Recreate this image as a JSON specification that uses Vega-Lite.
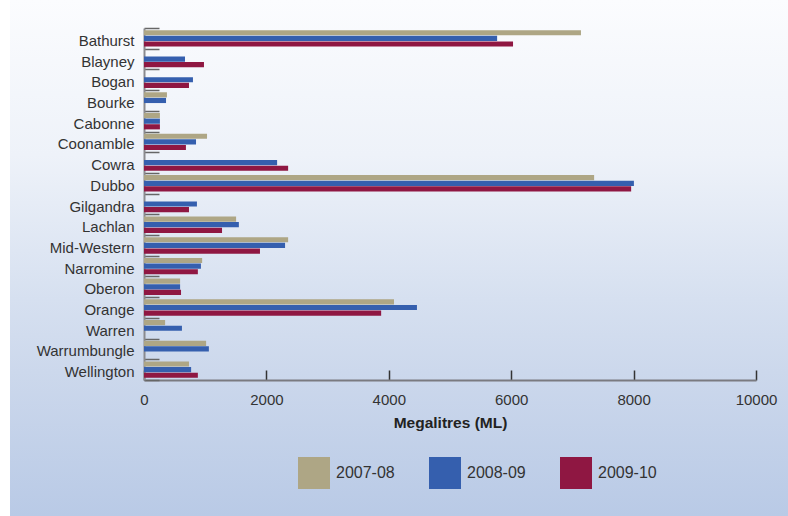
{
  "$schema": "https://vega.github.io/schema/vega-lite/v6.json",
  "width": 778,
  "height": 516,
  "autosize": {"type": "none"},
  "padding": {"left": 10, "top": 0, "right": 0, "bottom": 0},
  "background": "#ffffff",
  "config": {
    "font": "Liberation Sans",
    "view": {
      "stroke": null,
      "fill": {
        "gradient": "linear",
        "x1": 0, "y1": 0, "x2": 0, "y2": 1,
        "stops": [
          {"offset": 0, "color": "#fbfcfe"},
          {"offset": 0.3, "color": "#eef2f9"},
          {"offset": 0.58, "color": "#d6e0f0"},
          {"offset": 0.72, "color": "#ccd8ec"},
          {"offset": 1, "color": "#b9cae6"}
        ]
      }
    }
  },
  "data": {
    "values": [
      {"lga": "Bathurst", "year": "2007-08", "ml": 7140},
      {"lga": "Bathurst", "year": "2008-09", "ml": 5770},
      {"lga": "Bathurst", "year": "2009-10", "ml": 6030},
      {"lga": "Blayney", "year": "2008-09", "ml": 670},
      {"lga": "Blayney", "year": "2009-10", "ml": 980},
      {"lga": "Bogan", "year": "2008-09", "ml": 800},
      {"lga": "Bogan", "year": "2009-10", "ml": 735},
      {"lga": "Bourke", "year": "2007-08", "ml": 375},
      {"lga": "Bourke", "year": "2008-09", "ml": 360},
      {"lga": "Cabonne", "year": "2007-08", "ml": 260},
      {"lga": "Cabonne", "year": "2008-09", "ml": 260},
      {"lga": "Cabonne", "year": "2009-10", "ml": 260},
      {"lga": "Coonamble", "year": "2007-08", "ml": 1030},
      {"lga": "Coonamble", "year": "2008-09", "ml": 850},
      {"lga": "Coonamble", "year": "2009-10", "ml": 685},
      {"lga": "Cowra", "year": "2008-09", "ml": 2175},
      {"lga": "Cowra", "year": "2009-10", "ml": 2355},
      {"lga": "Dubbo", "year": "2007-08", "ml": 7355},
      {"lga": "Dubbo", "year": "2008-09", "ml": 8005},
      {"lga": "Dubbo", "year": "2009-10", "ml": 7960},
      {"lga": "Gilgandra", "year": "2008-09", "ml": 865},
      {"lga": "Gilgandra", "year": "2009-10", "ml": 735},
      {"lga": "Lachlan", "year": "2007-08", "ml": 1505},
      {"lga": "Lachlan", "year": "2008-09", "ml": 1550},
      {"lga": "Lachlan", "year": "2009-10", "ml": 1275},
      {"lga": "Mid-Western", "year": "2007-08", "ml": 2355},
      {"lga": "Mid-Western", "year": "2008-09", "ml": 2305},
      {"lga": "Mid-Western", "year": "2009-10", "ml": 1895},
      {"lga": "Narromine", "year": "2007-08", "ml": 950},
      {"lga": "Narromine", "year": "2008-09", "ml": 930},
      {"lga": "Narromine", "year": "2009-10", "ml": 880},
      {"lga": "Oberon", "year": "2007-08", "ml": 590},
      {"lga": "Oberon", "year": "2008-09", "ml": 590},
      {"lga": "Oberon", "year": "2009-10", "ml": 605},
      {"lga": "Orange", "year": "2007-08", "ml": 4085},
      {"lga": "Orange", "year": "2008-09", "ml": 4460},
      {"lga": "Orange", "year": "2009-10", "ml": 3875},
      {"lga": "Warren", "year": "2007-08", "ml": 345},
      {"lga": "Warren", "year": "2008-09", "ml": 620},
      {"lga": "Warrumbungle", "year": "2007-08", "ml": 1015},
      {"lga": "Warrumbungle", "year": "2008-09", "ml": 1060},
      {"lga": "Wellington", "year": "2007-08", "ml": 735},
      {"lga": "Wellington", "year": "2008-09", "ml": 770},
      {"lga": "Wellington", "year": "2009-10", "ml": 880}
    ]
  },
  "mark": {"type": "bar"},
  "encoding": {
    "y": {
      "field": "lga",
      "type": "nominal",
      "sort": ["Bathurst", "Blayney", "Bogan", "Bourke", "Cabonne", "Coonamble", "Cowra", "Dubbo", "Gilgandra", "Lachlan", "Mid-Western", "Narromine", "Oberon", "Orange", "Warren", "Warrumbungle", "Wellington"],
      "scale": {"range": [28, 380], "paddingInner": 0, "paddingOuter": 0},
      "axis": {
        "title": null,
        "offset": -134,
        "domainColor": "#8a8a8e",
        "domainWidth": 2,
        "tickBand": "extent",
        "tickSize": -15,
        "tickColor": "#666666",
        "tickWidth": 1.5,
        "labelFontSize": 15,
        "labelColor": "#333333",
        "labelPadding": 25,
        "labelOffset": 2
      }
    },
    "yOffset": {
      "field": "year",
      "type": "nominal",
      "scale": {"domain": ["2007-08", "2008-09", "2009-10"], "paddingInner": 0.08, "paddingOuter": 0.38}
    },
    "x": {
      "field": "ml",
      "type": "quantitative",
      "scale": {"domain": [0, 10000], "range": [134, 746], "nice": false},
      "axis": {
        "title": "Megalitres  (ML)",
        "offset": -136,
        "values": [0, 2000, 4000, 6000, 8000, 10000],
        "format": "d",
        "grid": false,
        "labelFlush": false,
        "domainColor": "#7a7a80",
        "domainWidth": 2,
        "tickSize": -10,
        "tickColor": "#333333",
        "tickWidth": 1.5,
        "labelFontSize": 15,
        "labelColor": "#333333",
        "labelPadding": 22,
        "titleFontSize": 15.5,
        "titleFontWeight": "bold",
        "titleColor": "#222222",
        "titlePadding": 8
      }
    },
    "color": {
      "field": "year",
      "type": "nominal",
      "scale": {"domain": ["2007-08", "2008-09", "2009-10"], "range": ["#aea685", "#355fae", "#8f1742"]},
      "legend": {
        "title": null,
        "orient": "none",
        "legendX": 288,
        "legendY": 457,
        "direction": "horizontal",
        "columns": 3,
        "symbolType": "square",
        "symbolSize": 1024,
        "symbolStrokeWidth": 0,
        "labelFontSize": 16,
        "labelColor": "#333333",
        "labelOffset": 6,
        "columnPadding": 34
      }
    }
  }
}
